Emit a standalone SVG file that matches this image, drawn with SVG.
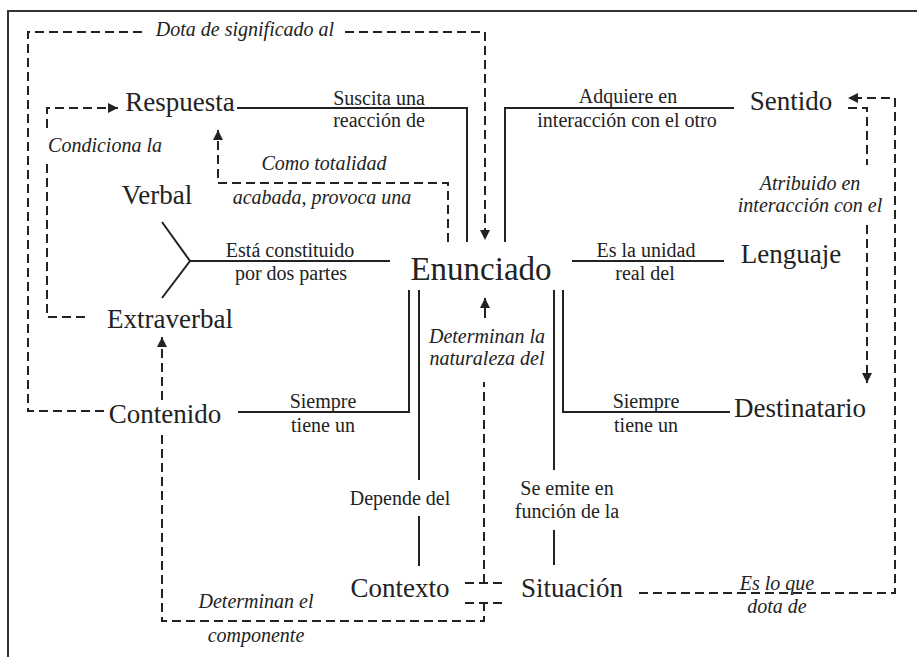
<svg xmlns="http://www.w3.org/2000/svg" width="917" height="657" viewBox="0 0 917 657">
<style>
text{font-family:"Liberation Serif","Tinos","Times New Roman","Nimbus Roman","DejaVu Serif",serif;fill:#222;text-anchor:middle}
.node{font-size:27px}
.big{font-size:33px}
.lbl{font-size:20px}
.it{font-size:20px;font-style:italic}
.solid{fill:none;stroke:#222;stroke-width:2}
.dash{fill:none;stroke:#222;stroke-width:2;stroke-dasharray:9 5}
.frame{fill:none;stroke:#333;stroke-width:2}
</style>
<defs>
<marker id="ah" viewBox="0 0 10 10" refX="10" refY="5" markerWidth="11" markerHeight="10" markerUnits="userSpaceOnUse" orient="auto">
<path d="M0,0 L10,5 L0,10 z" fill="#222"/>
</marker>
</defs>
<rect width="917" height="657" fill="#fff"/>
<path class="frame" d="M8,657 V11 H917"/>
<g id="connectors">
<path class="solid" d="M237,108 H467 V242"/>
<path class="solid" d="M505,242 V108 H734"/>
<path class="solid" d="M162,222 L190,261 L162,298 M190,261 H390"/>
<path class="solid" d="M572,261 H724"/>
<path class="solid" d="M409,290 V412 H238"/>
<path class="solid" d="M419,290 V480 M419,516 V566"/>
<path class="solid" d="M563,290 V412 H730"/>
<path class="solid" d="M554,290 V470 M554,530 V565"/>
<path class="dash" d="M142,32 H28 V411 H105"/>
<path class="dash" d="M345,32 H485 V240" marker-end="url(#ah)"/>
<path class="dash" d="M85,317 H47 V162"/>
<path class="dash" d="M47,128 V108 H118" marker-end="url(#ah)"/>
<path class="dash" d="M448,242 V183 H218 V130" marker-end="url(#ah)"/>
<path class="dash" d="M162,400 V337" marker-end="url(#ah)"/>
<path class="dash" d="M162,435 V621 H484 V603"/>
<path class="dash" d="M484,583 V382"/>
<path class="solid" d="M485,318 V298" marker-end="url(#ah)"/>
<path class="dash" d="M465,583 H504 M465,603 H504" stroke-dasharray="7 5"/>
<path class="dash" d="M639,593 H895 V98 H848" marker-end="url(#ah)"/>
<path class="dash" d="M848,108 H867 V165"/>
<path class="dash" d="M867,225 V383" marker-end="url(#ah)"/>
</g>
<g id="respuesta"><text class="node" x="180" y="111">Respuesta</text></g>
<g id="sentido"><text class="node" x="791" y="110">Sentido</text></g>
<g id="verbal"><text class="node" x="157" y="204">Verbal</text></g>
<g id="enunciado"><text class="big" x="481" y="280">Enunciado</text></g>
<g id="lenguaje"><text class="node" x="791" y="263">Lenguaje</text></g>
<g id="extraverbal"><text class="node" x="170" y="328">Extraverbal</text></g>
<g id="contenido"><text class="node" x="165" y="423">Contenido</text></g>
<g id="destinatario"><text class="node" x="800" y="417">Destinatario</text></g>
<g id="contexto"><text class="node" x="400" y="597">Contexto</text></g>
<g id="situacion"><text class="node" x="572" y="597">Situación</text></g>
<g id="labels">
<text class="lbl" x="379" y="105">Suscita una</text>
<text class="lbl" x="379" y="127">reacción de</text>
<text class="lbl" x="628" y="103">Adquiere en</text>
<text class="lbl" x="627" y="127">interacción con el otro</text>
<text class="lbl" x="290" y="257">Está constituido</text>
<text class="lbl" x="291" y="280">por dos partes</text>
<text class="lbl" x="646" y="257">Es la unidad</text>
<text class="lbl" x="645" y="280">real del</text>
<text class="lbl" x="323" y="408">Siempre</text>
<text class="lbl" x="323" y="432">tiene un</text>
<text class="lbl" x="646" y="408">Siempre</text>
<text class="lbl" x="646" y="432">tiene un</text>
<text class="lbl" x="400" y="505">Depende del</text>
<text class="lbl" x="567" y="495">Se emite en</text>
<text class="lbl" x="567" y="518">función de la</text>
<text class="it" x="245" y="36">Dota de significado al</text>
<text class="it" x="105" y="152">Condiciona la</text>
<text class="it" x="324" y="170">Como totalidad</text>
<text class="it" x="322" y="204">acabada, provoca una</text>
<text class="it" x="810" y="190">Atribuido en</text>
<text class="it" x="810" y="212">interacción con el</text>
<text class="it" x="487" y="343">Determinan la</text>
<text class="it" x="487" y="365">naturaleza del</text>
<text class="it" x="256" y="608">Determinan el</text>
<text class="it" x="256" y="642">componente</text>
<text class="it" x="777" y="590">Es lo que</text>
<text class="it" x="777" y="613">dota de</text>
</g>
</svg>
